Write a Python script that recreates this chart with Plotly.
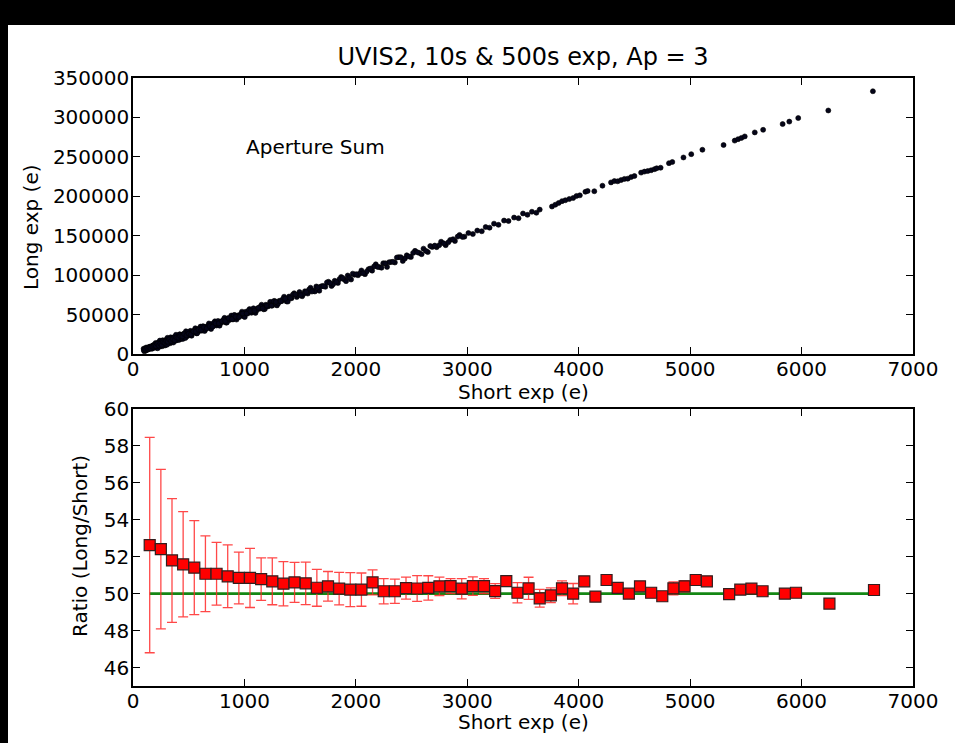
import plotly.graph_objects as go

# ---------------- data: top panel (aperture sums, one value per star) ----------------
short_exp = [
    95, 102, 108, 113, 118, 124, 129, 135, 140, 146, 151, 157, 162, 168, 173, 179, 185, 190, 196,
    203, 209, 215, 221, 228, 234, 241, 247, 254, 260, 267, 274, 280, 287, 294, 301, 309, 316, 323, 331,
    338, 346, 354, 362, 370, 378, 386, 395, 403, 412, 420, 429, 438, 447, 456, 466, 475, 485, 494,
    505, 515, 526, 537, 548, 559, 571, 582, 594, 606, 618, 630, 643, 655, 668, 681, 694, 708, 721, 735,
    749, 763, 777, 792, 806, 821, 836, 851, 866, 882, 897, 913, 929, 945, 961, 978, 995, 1011, 1028, 1046,
    1063, 1081, 1099, 1117, 1135, 1154, 1173, 1192, 1211, 1231, 1251, 1271, 1292, 1313, 1334, 1356, 1378,
    1400, 1423, 1446, 1470, 1494,
    1518, 1543, 1568, 1593, 1619, 1645, 1672, 1699, 1726, 1754, 1782, 1810, 1839, 1868, 1897, 1927, 1957,
    1988, 2019, 2050, 2082, 2114, 2146, 2179, 2212, 2246, 2280, 2315, 2350, 2385, 2421, 2457, 2494, 2531,
    2569, 2607, 2646, 2685, 2725, 2765, 2806, 2847, 2889, 2931, 2974,
    3010, 3050, 3090, 3130, 3165, 3200, 3240, 3280, 3330, 3370, 3420, 3460, 3500, 3540, 3580, 3620, 3650,
    3760, 3790, 3820, 3850, 3880, 3915, 3950, 3980, 4010, 4060, 4080, 4140, 4213, 4290, 4320, 4350, 4380,
    4410, 4440, 4470, 4500, 4560, 4590, 4620, 4650, 4680, 4700, 4735, 4810, 4840, 4940, 5010, 5110, 5300,
    5400, 5430, 5460, 5490, 5580, 5655, 5830, 5890, 5970, 6240, 6640,
    98, 110, 121, 132, 143, 154, 165, 176, 187, 199, 212, 225, 238, 251, 264, 277, 291, 305, 320, 335,
    350, 366, 382, 399, 416, 433, 451, 470, 490, 510, 531, 553, 576, 600, 624, 649, 675, 701, 728, 756,
    784, 813, 843, 874, 905, 937, 970, 1003, 1037, 1072, 1108, 1145, 1183, 1222, 1262, 1303, 1345, 1389,
    1434, 1480, 1530, 1580, 1632, 1685, 1740, 1796, 1853, 1912, 1972, 2034, 2098, 2163, 2230, 2298, 2368,
    2440, 2514, 2590, 2668, 2748, 2830, 2914,
    105, 116, 127, 138, 149, 160, 171, 182, 193, 206, 219, 232, 245, 258, 271, 284, 298, 312, 327, 342,
    358, 374, 390, 407, 424, 442, 460, 480, 500, 520, 542, 564, 588, 612, 636, 662, 688, 714, 742, 770,
    798, 828, 858, 889, 921, 953, 986, 1020, 1054, 1090, 1126, 1164, 1202, 1242, 1282, 1324, 1367, 1411,
    1457, 1505, 1555, 1606, 1658, 1712, 1768, 1825, 1882, 1942, 2003, 2066, 2130, 2196, 2264, 2333, 2404,
    2477, 2552, 2629, 2708, 2789, 2872, 2957,
]
long_exp = [
    6700, 3350, 6500, 4300, 8200, 5800, 7700, 5700, 7400, 6700, 9250, 7000, 9200, 6600, 10400, 8500, 11500, 8400, 10900,
    14000, 7800, 12900, 7200, 14500, 10600, 17000, 10200, 14100, 9700, 17400, 11000, 16000, 10700, 17800, 13900, 20500, 13700, 17500, 13500,
    21100, 14700, 19800, 14500, 21600, 17800, 24400, 17700, 21500, 17700, 25000, 19100, 23900, 19000, 25800, 22500, 28800, 22400, 26100,
    23900, 29300, 23100, 28500, 27400, 32600, 26100, 31800, 29100, 34700, 29600, 35100, 29100, 34400, 33600, 38700, 32500, 38100, 35500, 41400,
    36100, 41900, 35900, 41300, 40700, 45800, 39700, 45300, 43000, 48700, 43800, 49400, 43600, 49000, 48500, 53700, 47700, 53400, 51200, 56900,
    52200, 57900, 52100, 57700, 57200, 62500, 56600, 62400, 60300, 66100, 61400, 67300, 61600, 67400, 67000, 72600, 66700,
    72800, 70700, 77000, 72200, 78600,
    73200, 79500, 76600, 84000, 80600, 85600, 80200, 86300, 85200, 91600, 86200, 92800, 90000, 97700, 94400, 99500, 94400,
    100400, 99800, 105900, 101200, 107600, 105700, 113700, 110200, 115100, 110400, 116500, 116000, 122800, 118000, 125100, 122900, 130800,
    128200, 133600, 129200, 135700, 135500, 142400, 138000, 144700, 143200, 151000, 148800,
    153400, 152100, 156500, 155600, 161000, 160200, 165300, 163800, 169200, 168600, 173000, 172200, 178200, 176500, 180400, 179100, 183100,
    187000, 189300, 191500, 193800, 195000, 196500, 197800, 200400, 201200, 205700, 206700, 206400, 213400, 217600, 219300, 219000, 220500,
    222000, 222300, 224300, 225700, 230000, 231300, 232000, 233000, 234400, 235500, 236200, 242000, 243500, 249200, 253400, 259000, 265000,
    270600, 272400, 274000, 275900, 281000, 284300, 291600, 294700, 299200, 308800, 333200,
    4550, 6650, 4730, 7050, 8860, 6930, 9250, 7060, 10880, 10000, 9920, 13590, 9260, 13430, 16600, 12270, 16490, 11710, 18980, 16750,
    17030, 20850, 16670, 21050, 24420, 20300, 24730, 20200, 27740, 25510, 26080, 30200, 26380, 31100, 34820, 31100, 35930, 31750, 39630, 38060,
    38980, 43460, 39990, 45070, 49160, 45790, 50970, 46850, 55080, 53850, 55180, 60050, 56980, 62460, 66980, 64060, 69690, 66420,
    75200, 74540, 76110, 81630, 79250, 85420, 90700, 88520, 94890, 92370, 101890, 102010, 104740, 111020, 109390, 116320, 122350,
    120980, 128210, 126540, 136970, 138000, 141630, 148870,
    5810, 5670, 7290, 6510, 7820, 7340, 9310, 9220, 10340, 10010, 12780, 10750, 12920, 11490, 14960, 14330, 16150, 15470, 18340, 16410,
    18740, 17460, 21090, 20660, 22640, 22160, 25190, 23520, 25800, 24720, 28640, 28460, 30790, 30610, 33940, 32560, 35390, 34610, 38840, 38970,
    41500, 41630, 45260, 44140, 47270, 46800, 51290, 51410, 54240, 54660, 58590, 57820, 61240, 61170, 66000, 66830, 70110, 70940,
    75370, 74650, 78670, 79140, 84560, 85990, 89910, 91380, 96350, 96680, 101250, 102330, 108350, 110380, 114910, 116980, 122660,
    123640, 128920, 130700, 137480, 140270, 145550, 148430,
]

# ---------------- data: bottom panel (binned ratios) ----------------
bin_centers = [
    150, 250, 350, 450, 550, 650, 750, 850, 950, 1050, 1150, 1250, 1350, 1450, 1550, 1650, 1750, 1850, 1950, 2050,
    2150, 2250, 2350, 2450, 2550, 2650, 2750, 2850, 2950, 3050, 3150, 3250, 3350, 3450, 3550, 3650, 3750, 3850,
    3950, 4050, 4150, 4250, 4350, 4450, 4550, 4650, 4750, 4850, 4950, 5050, 5150, 5350, 5450, 5550, 5650, 5850,
    5950, 6250, 6650,
]
ratio = [
    52.63, 52.41, 51.80, 51.59, 51.41, 51.08, 51.08, 50.94, 50.85, 50.85, 50.79, 50.67, 50.54, 50.61, 50.56, 50.32,
    50.40, 50.27, 50.22, 50.22, 50.61, 50.13, 50.13, 50.30, 50.28, 50.31, 50.40, 50.41, 50.27, 50.41, 50.41, 50.14,
    50.68, 50.05, 50.29, 49.75, 49.91, 50.29, 50.00, 50.67, 49.84, 50.74, 50.31, 50.00, 50.40, 50.05, 49.86, 50.29,
    50.40, 50.74, 50.67, 49.98, 50.22, 50.27, 50.13, 50.00, 50.05, 49.46, 50.20,
]
ratio_err = [
    5.83, 4.32, 3.35, 2.85, 2.55, 2.05, 1.70, 1.70, 1.40, 1.60, 1.15, 1.27, 1.20, 1.08, 1.15, 1.00,
    0.80, 0.88, 0.92, 0.90, 0.68, 0.68, 0.66, 0.60, 0.70, 0.66, 0.50, 0.40, 0.55, 0.50, 0.40, 0.40,
    0.20, 0.55, 0.60, 0.48, 0.40, 0.40, 0.55, 0.20, 0.20, 0.20, 0.20, 0.20, 0.20, 0.20, 0.20, 0.35,
    0.30, 0.20, 0.20, 0.00, 0.00, 0.00, 0.00, 0.00, 0.00, 0.00, 0.00,
]
expected_ratio = 50.0

x_ticks = [0, 1000, 2000, 3000, 4000, 5000, 6000, 7000]
y1_ticks = [0, 50000, 100000, 150000, 200000, 250000, 300000, 350000]
y2_ticks = [46, 48, 50, 52, 54, 56, 58, 60]

FONT = "DejaVu Sans"
fig = go.Figure()

fig.add_trace(go.Scatter(
    x=short_exp, y=long_exp, mode="markers", xaxis="x", yaxis="y",
    marker=dict(size=5, color="rgb(5,5,25)", line=dict(width=0.6, color="black")),
    showlegend=False,
))

fig.add_trace(go.Scatter(
    x=[bin_centers[0], bin_centers[-1]], y=[expected_ratio, expected_ratio],
    mode="lines", xaxis="x2", yaxis="y2",
    line=dict(color="rgb(20,135,20)", width=2.6), showlegend=False,
))

fig.add_trace(go.Scatter(
    x=bin_centers, y=ratio, mode="markers", xaxis="x2", yaxis="y2",
    marker=dict(symbol="square", size=11, color="red", line=dict(width=1.2, color="rgb(50,30,30)")),
    error_y=dict(type="data", array=ratio_err, visible=True, color="rgba(255,40,40,0.85)",
                 thickness=1.3, width=5),
    showlegend=False,
))

axis_common = dict(
    showline=True, linecolor="black", linewidth=1.5, mirror="ticks",
    ticks="inside", ticklen=7, tickwidth=1.3, tickcolor="black",
    showgrid=False, zeroline=False,
    tickfont=dict(family=FONT, size=20, color="black"),
)

fig.update_layout(
    width=955, height=743,
    margin=dict(l=133, r=42, t=78, b=57),
    paper_bgcolor="white", plot_bgcolor="white",
    font=dict(family=FONT, size=20, color="black"),
    title=dict(text="UVIS2, 10s & 500s exp, Ap = 3", x=0.5, xref="paper", xanchor="center",
               y=1 - 57 / 743, yref="container", yanchor="middle",
               font=dict(family=FONT, size=24, color="black")),
    xaxis=dict(domain=[0, 1], anchor="y", range=[0, 7000], tickvals=x_ticks,
               ticklabelstandoff=-4, **axis_common),
    yaxis=dict(domain=[0.5461, 1], anchor="x", range=[0, 350000], tickvals=y1_ticks,
               tickformat="d", ticklabelstandoff=-2, **axis_common),
    xaxis2=dict(domain=[0, 1], anchor="y2", range=[0, 7000], tickvals=x_ticks,
                ticklabelstandoff=-4, **axis_common),
    yaxis2=dict(domain=[0, 0.4556], anchor="x2", range=[45, 60], tickvals=y2_ticks,
                ticklabelstandoff=-2, **axis_common),
)

ann_font = dict(family=FONT, size=20, color="black")
fig.add_annotation(text="Aperture Sum", x=1000, y=263000, xref="x", yref="y",
                   xanchor="left", yanchor="middle", showarrow=False, font=ann_font)
fig.add_annotation(text="Short exp (e)", x=0.5, y=(686 - 392) / 608, xref="paper", yref="paper",
                   xanchor="center", yanchor="middle", showarrow=False, font=ann_font)
fig.add_annotation(text="Short exp (e)", x=0.5, y=(686 - 722) / 608, xref="paper", yref="paper",
                   xanchor="center", yanchor="middle", showarrow=False, font=ann_font)
fig.add_annotation(text="Long exp (e)", x=(31 - 133) / 780, y=(686 - 227) / 608, xref="paper", yref="paper",
                   xanchor="center", yanchor="middle", textangle=-90, showarrow=False, font=ann_font)
fig.add_annotation(text="Ratio (Long/Short)", x=(80 - 133) / 780, y=(686 - 546) / 608, xref="paper", yref="paper",
                   xanchor="center", yanchor="middle", textangle=-90, showarrow=False, font=ann_font)

# black frame bands (top and left) of the screenshot
fig.add_shape(type="rect", xref="paper", yref="paper", x0=-0.3, x1=1.3, y0=(686 - 25) / 608, y1=1.3,
              fillcolor="black", line=dict(width=0), layer="above")
fig.add_shape(type="rect", xref="paper", yref="paper", x0=-0.3, x1=(8 - 133) / 780, y0=-0.3, y1=1.3,
              fillcolor="black", line=dict(width=0), layer="above")

fig.write_html(
    "out.html",
    config={"displayModeBar": False},
    post_script="document.body.style.margin='0';document.body.style.overflow='hidden';"
                "document.body.style.background='black';",
)
